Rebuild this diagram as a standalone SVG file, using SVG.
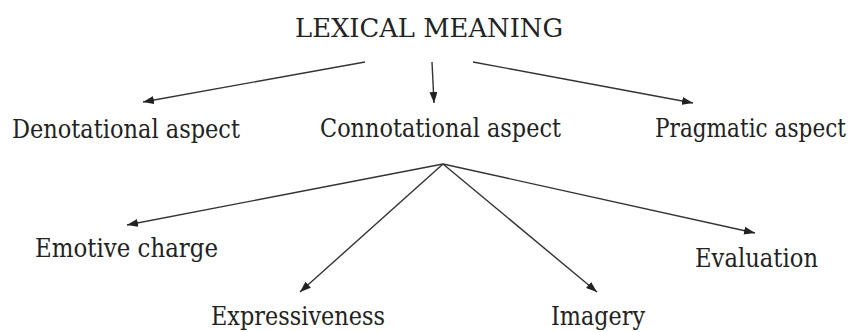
<svg xmlns="http://www.w3.org/2000/svg" width="859" height="332" viewBox="0 0 859 332">
<style>
text{font-family:'DejaVu Serif','Liberation Serif',serif;font-size:26.5px;fill:#222}
.c line{stroke:#333;stroke-width:1.4;marker-end:url(#ah)}
</style>
<defs>
<marker id="ah" markerWidth="12" markerHeight="8" refX="11" refY="4" orient="auto" markerUnits="userSpaceOnUse">
<path d="M0,0 L11,4 L0,8 z" fill="#222"/>
</marker>
</defs>
<rect width="859" height="332" fill="#fff"/>
<g class="c" id="connectors">
<line x1="365" y1="62" x2="143" y2="102"/>
<line x1="432" y1="62" x2="434" y2="103"/>
<line x1="473" y1="62" x2="693" y2="103"/>
<line x1="443" y1="164" x2="127" y2="225"/>
<line x1="443" y1="164" x2="300" y2="292"/>
<line x1="443" y1="164" x2="597" y2="292"/>
<line x1="443" y1="164" x2="755" y2="233"/>
</g>
<g id="lexical"><text x="295" y="37" textLength="268" lengthAdjust="spacingAndGlyphs">LEXICAL MEANING</text></g>
<g id="denotational"><text x="12" y="138" textLength="228" lengthAdjust="spacingAndGlyphs">Denotational aspect</text></g>
<g id="connotational"><text x="320" y="137" textLength="241" lengthAdjust="spacingAndGlyphs">Connotational aspect</text></g>
<g id="pragmatic"><text x="655" y="137" textLength="191" lengthAdjust="spacingAndGlyphs">Pragmatic aspect</text></g>
<g id="emotive"><text x="35" y="257" textLength="183" lengthAdjust="spacingAndGlyphs">Emotive charge</text></g>
<g id="expressiveness"><text x="211" y="325" textLength="174" lengthAdjust="spacingAndGlyphs">Expressiveness</text></g>
<g id="imagery"><text x="551" y="325" textLength="94" lengthAdjust="spacingAndGlyphs">Imagery</text></g>
<g id="evaluation"><text x="695" y="267" textLength="123" lengthAdjust="spacingAndGlyphs">Evaluation</text></g>
</svg>
